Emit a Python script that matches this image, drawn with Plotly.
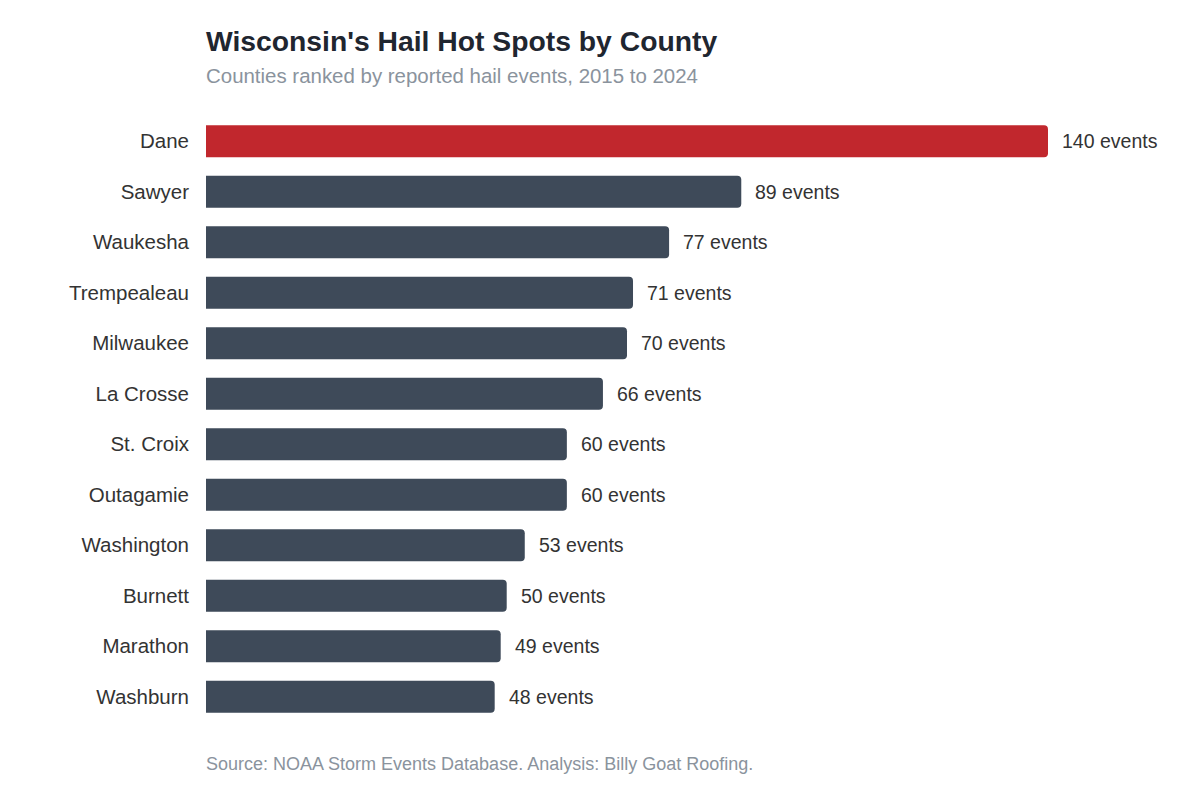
import plotly.graph_objects as go

counties = ["Dane", "Sawyer", "Waukesha", "Trempealeau", "Milwaukee", "La Crosse",
            "St. Croix", "Outagamie", "Washington", "Burnett", "Marathon", "Washburn"]
events = [140, 89, 77, 71, 70, 66, 60, 60, 53, 50, 49, 48]
labels = [f"{v} events" for v in events]

RED = "#C1272D"
SLATE = "#3E4A59"
colors = [RED if i == 0 else SLATE for i in range(len(counties))]

FONT = "Liberation Sans, Arial, Helvetica, sans-serif"

L, R, T, B = 206, 152, 116, 74
W, H = 1200, 796
plot_w = W - L - R
plot_h = H - T - B

def px(xp):
    return (xp - L) / plot_w

def py(yp):
    return (H - B - yp) / plot_h

fig = go.Figure()
fig.add_trace(go.Bar(
    x=events, y=counties, orientation="h",
    marker=dict(color=colors, cornerradius=4, line=dict(width=0)),
    hoverinfo="skip",
))

for c, v, t in zip(counties, events, labels):
    fig.add_annotation(x=v, y=c, text=t, xref="x", yref="y", xanchor="left",
                       yanchor="middle", xshift=12, showarrow=False,
                       font=dict(family=FONT, size=19.5, color="#333333"))

fig.add_annotation(x=px(206), y=py(41), xref="paper", yref="paper", xshift=-2,
                   text="<b>Wisconsin's Hail Hot Spots by County</b>",
                   showarrow=False, xanchor="left", yanchor="middle",
                   font=dict(family=FONT, size=28.3, color="#1F2630"))
fig.add_annotation(x=px(206), y=py(75), xref="paper", yref="paper", xshift=-2,
                   text="Counties ranked by reported hail events, 2015 to 2024",
                   showarrow=False, xanchor="left", yanchor="middle",
                   font=dict(family=FONT, size=20.45, color="#8A939D"))
fig.add_annotation(x=px(206), y=py(764), xref="paper", yref="paper", xshift=-2,
                   text="Source: NOAA Storm Events Database. Analysis: Billy Goat Roofing.",
                   showarrow=False, xanchor="left", yanchor="middle",
                   font=dict(family=FONT, size=18, color="#8A939D"))

fig.update_layout(
    width=W, height=H,
    margin=dict(l=L, r=R, t=T, b=B),
    paper_bgcolor="white", plot_bgcolor="white",
    showlegend=False, bargap=0.367,
    font=dict(family=FONT),
    xaxis=dict(range=[0, 140], visible=False, fixedrange=True),
    yaxis=dict(autorange="reversed", showgrid=False, showline=False, ticks="",
               ticklabelstandoff=16,
               tickfont=dict(family=FONT, size=20.5, color="#333333")),
)

fig.write_html("out.html")
